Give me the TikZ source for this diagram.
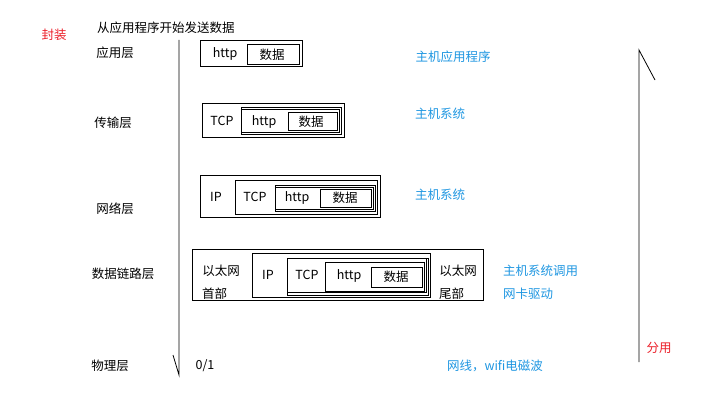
\documentclass[tikz,border=0pt]{standalone}
\usepackage{fontspec}
\setmainfont{Noto Sans CJK SC}
\definecolor{blu}{RGB}{30,150,225}
\definecolor{rd}{RGB}{235,30,40}
\begin{document}
\begin{tikzpicture}[x=1pt,y=-1pt,
  bx/.style={draw,line width=0.8pt,inner sep=0pt},
  t/.style={font=\fontsize{12.5}{14}\selectfont,inner sep=0pt},
  bt/.style={t,text=blu},
  rt/.style={t,text=rd}]
\useasboundingbox (0,0) rectangle (703,401);
\newcommand{\bxr}[5]{\node[bx,minimum width=#4-#2,minimum height=#5-#3] (#1) at ({(#2+#4)/2},{(#3+#5)/2}) {};}
% axes
\coordinate (la) at (179,40); \coordinate (lb) at (179,375); \coordinate (lc) at (173,355);
\draw[line width=0.8pt] (la) -- (lb) -- (lc);
\coordinate (ra) at (639,362); \coordinate (rb) at (639,50); \coordinate (rc) at (655,80);
\draw[line width=0.8pt] (ra) -- (rb) -- (rc);
% labels
\node[t,anchor=west] (top) at (97,28) {从应用程序开始发送数据};
\node[rt] (fz) at (54,35) {封装};
\node[rt] (fy) at (659,348) {分用};
\node[t] (l1) at (115,53) {应用层};
\node[t] (l2) at (113,123) {传输层};
\node[t] (l3) at (115,209) {网络层};
\node[t] (l4) at (123,274) {数据链路层};
\node[t] (l5) at (110,366) {物理层};
\node[t] (bits) at (205,366) {0/1};
\node[bt] (b1) at (453,57) {主机应用程序};
\node[bt] (b2) at (440,114) {主机系统};
\node[bt] (b3) at (440,195) {主机系统};
\node[bt,anchor=west] (b4) at (503,271) {主机系统调用};
\node[bt,anchor=west] (b5) at (503,294) {网卡驱动};
\node[bt] (b6) at (495,366) {网线，wifi电磁波};
% application
\bxr{a1}{200}{40}{302}{66}
\bxr{a2}{247}{44}{299}{64}
\node[t] at (225,54) {http}; \node[t] at (272,55) {数据};
% transport
\bxr{t1}{202}{103}{344}{137}
\bxr{t2}{241}{107}{341}{134}
\bxr{t2b}{241}{109}{339}{132}
\bxr{t3}{288}{112}{337}{130}
\node[t] at (222,121) {TCP}; \node[t] at (264,122) {http}; \node[t] at (311,122) {数据};
% network
\bxr{n1}{200}{175}{380}{217}
\bxr{n2}{235}{180}{377}{214}
\bxr{n3}{275}{185}{375}{211}
\bxr{n3b}{275}{187}{373}{209}
\bxr{n4}{320}{189}{371}{207}
\node[t] at (216,197) {IP}; \node[t] at (255,197) {TCP}; \node[t] at (297,198) {http}; \node[t] at (345,198) {数据};
% data link
\bxr{d1}{192}{249}{483}{300}
\bxr{d2}{252}{253}{430}{297}
\bxr{d3}{287}{258}{428}{295}
\bxr{d3b}{287}{258}{426}{292}
\bxr{d4}{325}{262}{424}{291}
\bxr{d5}{371}{267}{422}{287}
\node[t] at (221,271) {以太网}; \node[t,anchor=west] at (202,294) {首部};
\node[t] at (268,275) {IP}; \node[t] at (307,275) {TCP}; \node[t] at (349,276) {http}; \node[t] at (396,277) {数据};
\node[t] at (458,271) {以太网}; \node[t,anchor=west] at (439,294) {尾部};
\end{tikzpicture}
\end{document}
